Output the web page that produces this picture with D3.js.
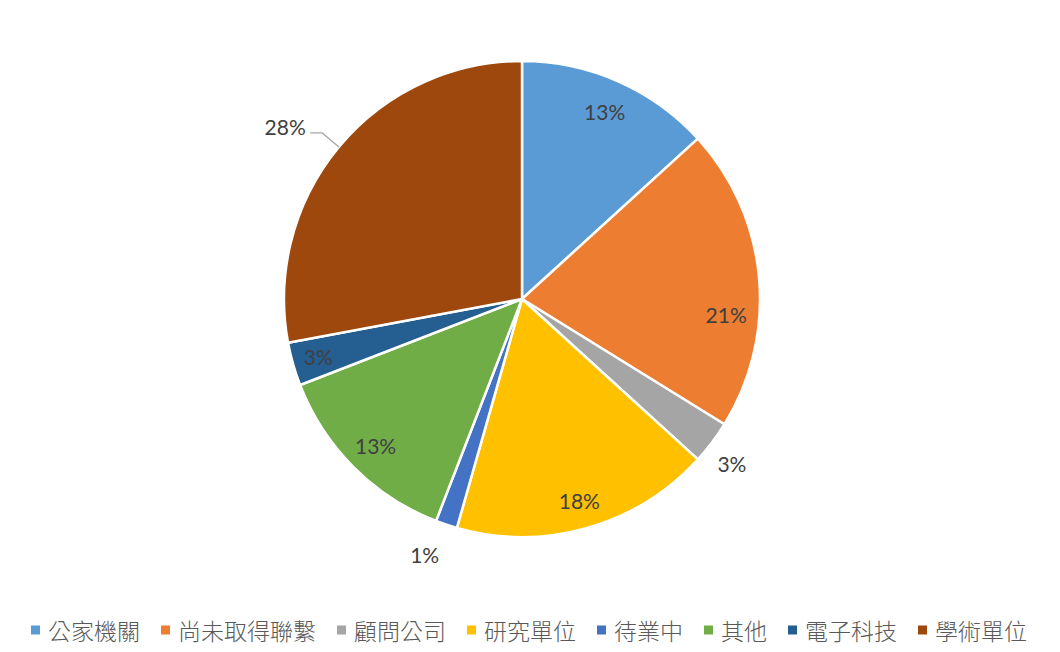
<!DOCTYPE html>
<html>
<head>
<meta charset="utf-8">
<script src="https://cdn.jsdelivr.net/npm/d3@7"></script>
<style>
  html, body { margin: 0; padding: 0; background: #fff; }
  svg { display: block; }
</style>
</head>
<body>
<svg id="chart" width="1060" height="652"></svg>
<script>
// Respondent counts per category
const categories = ["公家機關", "尚未取得聯繫", "顧問公司", "研究單位", "待業中", "其他", "電子科技", "學術單位"];
const counts = [9, 14, 2, 12, 1, 9, 2, 19];
const colors = ["#5B9BD5", "#ED7D31", "#A5A5A5", "#FFC000", "#4472C4", "#70AD47", "#255E91", "#9E480E"];

// Label placement: radius as a fraction of the pie radius, and angular nudge in degrees
const labelRadius = [0.86, 0.86, 1.12, 0.88, 1.15, 0.87, 0.89, 1.23];
const labelNudge  = [0, 9.5, 1, 0, 2.3, 0, 0, -3.7];
const leader      = [false, false, false, false, false, false, false, true];

const W = 1060, H = 652;
const cx = 522, cy = 299, R = 238;
const svg = d3.select("#chart");

const total = d3.sum(counts);
const data = categories.map((c, i) => ({ name: c, value: counts[i], color: colors[i], i }));

const pie = d3.pie().value(d => d.value).sort(null);
const arcs = pie(data);
const arc = d3.arc().innerRadius(0).outerRadius(R);

const g = svg.append("g").attr("transform", `translate(${cx},${cy})`);

g.selectAll("path.slice")
  .data(arcs)
  .join("path")
  .attr("class", "slice")
  .attr("d", arc)
  .attr("fill", d => d.data.color)
  .attr("stroke", "#fff")
  .attr("stroke-width", 2.5)
  .attr("stroke-linejoin", "round");

const pct = d3.format(".0%");
const polar = (ang, r) => [Math.sin(ang) * r, -Math.cos(ang) * r];

arcs.forEach(a => {
  const i = a.data.i;
  const mid = (a.startAngle + a.endAngle) / 2;
  const ang = mid + labelNudge[i] * Math.PI / 180;
  const [lx, ly] = polar(ang, R * labelRadius[i]);

  if (leader[i]) {
    const [ex, ey] = polar(mid, R);
    const [bx, by] = [lx + 37, ly + 6];
    g.append("polyline")
      .attr("points", [[lx + 25, by], [bx, by], [ex, ey]].map(p => p.join(",")).join(" "))
      .attr("fill", "none")
      .attr("stroke", "#A6A6A6")
      .attr("stroke-width", 1.3);
  }

  g.append("text")
    .attr("x", lx)
    .attr("y", ly)
    .attr("text-anchor", "middle")
    .attr("dominant-baseline", "central")
    .attr("font-family", "Lato, 'Noto Sans', sans-serif")
    .attr("font-size", 21)
    .attr("fill", "#404040")
    .text(pct(a.data.value / total));
});

// Legend along the bottom
const legend = svg.append("g");
const fontCJK = "'Noto Sans CJK TC', 'Noto Sans CJK SC', sans-serif";
const sq = 9, sqGap = 8, itemGap = 21, legendY = 630;
const items = legend.selectAll("g.item").data(data).join("g").attr("class", "item");
items.append("rect")
  .attr("width", sq).attr("height", sq)
  .attr("y", legendY - sq / 2)
  .attr("fill", d => d.color);
items.append("text")
  .attr("x", sq + sqGap)
  .attr("y", legendY)
  .attr("dominant-baseline", "central")
  .attr("font-family", fontCJK)
  .attr("font-size", 23)
  .attr("font-weight", 300)
  .attr("fill", "#595959")
  .text(d => d.name);

let x = 0;
const offsets = [];
items.each(function () {
  offsets.push(x);
  const w = d3.select(this).select("text").node().getComputedTextLength();
  x += sq + sqGap + w + itemGap;
});
const totalW = x - itemGap;
const startX = 529 - totalW / 2;
items.attr("transform", (d, i) => `translate(${startX + offsets[i]},0)`);
</script>
</body>
</html>
